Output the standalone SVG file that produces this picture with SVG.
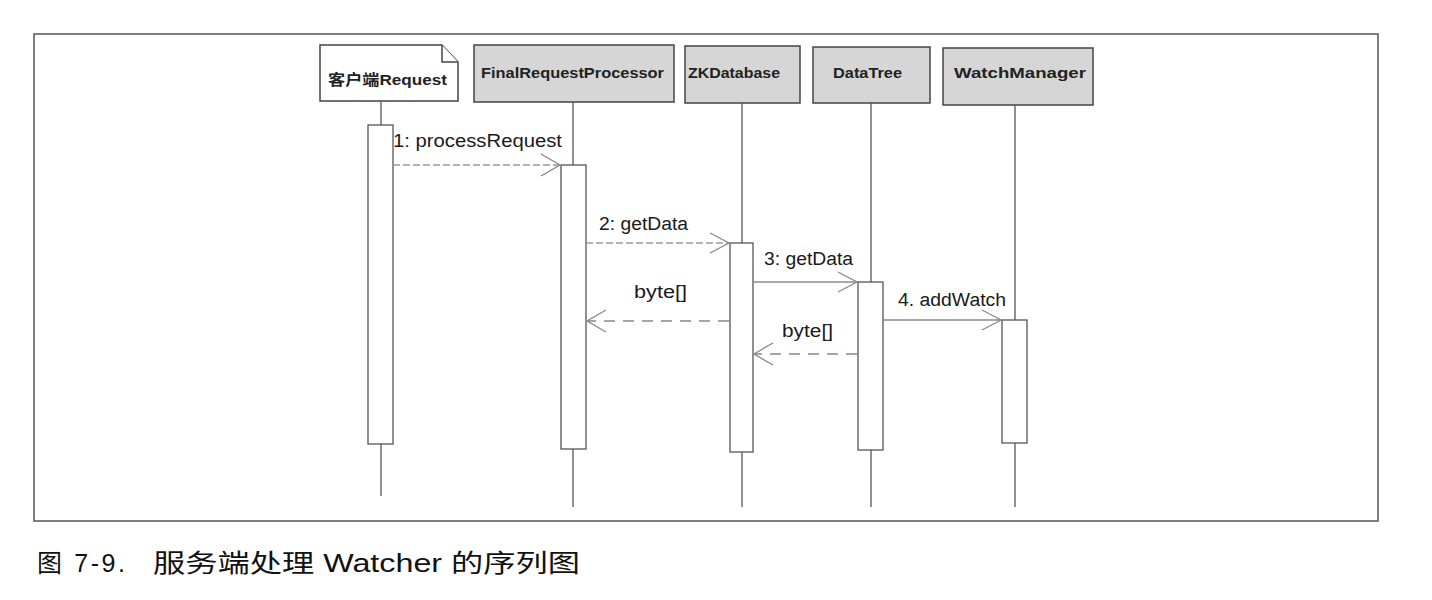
<svg xmlns="http://www.w3.org/2000/svg" width="1432" height="600" viewBox="0 0 1432 600">
<style>
.frame{fill:none;stroke:#555;stroke-width:1.5}
.box{fill:#d6d6d6;stroke:#444;stroke-width:1.5}
.note{fill:#fff;stroke:#444;stroke-width:1.5}
.life{stroke:#555;stroke-width:1.3;fill:none}
.act{fill:#fff;stroke:#555;stroke-width:1.3}
.nlabel{font-family:"Liberation Sans","Noto Sans CJK SC",sans-serif;font-size:15px;font-weight:bold;fill:#222}
.mlabel{font-family:"Liberation Sans",sans-serif;font-size:18px;fill:#1a1a1a}
.call{stroke:#8a8a8a;stroke-width:1.3;fill:none}
.calld{stroke:#9a9a9a;stroke-width:1.3;fill:none;stroke-dasharray:7 3}
.ret{stroke:#888;stroke-width:1.5;fill:none;stroke-dasharray:11 8}
.head{stroke:#888;stroke-width:1.3;fill:none}
.caption{font-family:"Liberation Sans","Noto Sans CJK SC",sans-serif;font-size:25px;fill:#111}
</style>
<rect width="1432" height="600" fill="#fff"/>
<rect class="frame" x="34" y="34" width="1344" height="487"/>

<g id="node-client">
<path class="note" d="M320,45 H442 L458,62 V101 H320 Z"/>
<path class="note" d="M442,45 V62 H458" fill="none"/>
<text class="nlabel" x="328" y="85" textLength="119" lengthAdjust="spacingAndGlyphs">客户端Request</text>
<line class="life" x1="381" y1="101" x2="381" y2="125"/>
<rect class="act" x="368" y="125" width="25" height="319"/>
<line class="life" x1="381" y1="444" x2="381" y2="496"/>
</g>

<g id="node-frp">
<rect class="box" x="474" y="45" width="200" height="57"/>
<text class="nlabel" x="481" y="78" textLength="183" lengthAdjust="spacingAndGlyphs">FinalRequestProcessor</text>
<line class="life" x1="573" y1="102" x2="573" y2="165"/>
<rect class="act" x="561" y="165" width="25" height="284"/>
<line class="life" x1="573" y1="449" x2="573" y2="507"/>
</g>

<g id="node-zkdb">
<rect class="box" x="685" y="46" width="115" height="57"/>
<text class="nlabel" x="688" y="78" textLength="92" lengthAdjust="spacingAndGlyphs">ZKDatabase</text>
<line class="life" x1="742" y1="103" x2="742" y2="243"/>
<rect class="act" x="730" y="243" width="23" height="209"/>
<line class="life" x1="742" y1="452" x2="742" y2="507"/>
</g>

<g id="node-datatree">
<rect class="box" x="813" y="47" width="117" height="56"/>
<text class="nlabel" x="833" y="78" textLength="69" lengthAdjust="spacingAndGlyphs">DataTree</text>
<line class="life" x1="871" y1="103" x2="871" y2="282"/>
<rect class="act" x="858" y="282" width="25" height="168"/>
<line class="life" x1="871" y1="450" x2="871" y2="507"/>
</g>

<g id="node-watchmanager">
<rect class="box" x="943" y="48" width="150" height="57"/>
<text class="nlabel" x="954" y="78" textLength="132" lengthAdjust="spacingAndGlyphs">WatchManager</text>
<line class="life" x1="1015" y1="105" x2="1015" y2="320"/>
<rect class="act" x="1002" y="320" width="25" height="123"/>
<line class="life" x1="1015" y1="443" x2="1015" y2="507"/>
</g>

<g id="connectors">
<line class="calld" x1="393" y1="165" x2="560" y2="165"/>
<polyline class="head" points="541,154 560,165 541,176"/>
<text class="mlabel" x="393" y="147" textLength="169" lengthAdjust="spacingAndGlyphs">1: processRequest</text>

<line class="calld" x1="586" y1="243" x2="729" y2="243"/>
<polyline class="head" points="710,233 729,243 710,253"/>
<text class="mlabel" x="599" y="230" textLength="89" lengthAdjust="spacingAndGlyphs">2: getData</text>

<line class="call" x1="753" y1="282" x2="857" y2="282"/>
<polyline class="head" points="838,272 857,282 838,292"/>
<text class="mlabel" x="764" y="265" textLength="89" lengthAdjust="spacingAndGlyphs">3: getData</text>

<line class="call" x1="883" y1="320" x2="1001" y2="320"/>
<polyline class="head" points="982,310 1001,320 982,330"/>
<text class="mlabel" x="898" y="306" textLength="108" lengthAdjust="spacingAndGlyphs">4. addWatch</text>

<line class="ret" x1="729" y1="321" x2="587" y2="321"/>
<polyline class="head" points="606,310 587,321 606,332"/>
<text class="mlabel" x="634" y="298" textLength="53" lengthAdjust="spacingAndGlyphs">byte[]</text>

<line class="ret" x1="857" y1="354" x2="754" y2="354"/>
<polyline class="head" points="773,343 754,354 773,365"/>
<text class="mlabel" x="782" y="337" textLength="51" lengthAdjust="spacingAndGlyphs">byte[]</text>
</g>

<text class="caption" x="37" y="572" textLength="88" lengthAdjust="spacing">图 7-9.</text>
<text class="caption" x="153" y="572" textLength="427" lengthAdjust="spacingAndGlyphs">服务端处理 Watcher 的序列图</text>
</svg>
